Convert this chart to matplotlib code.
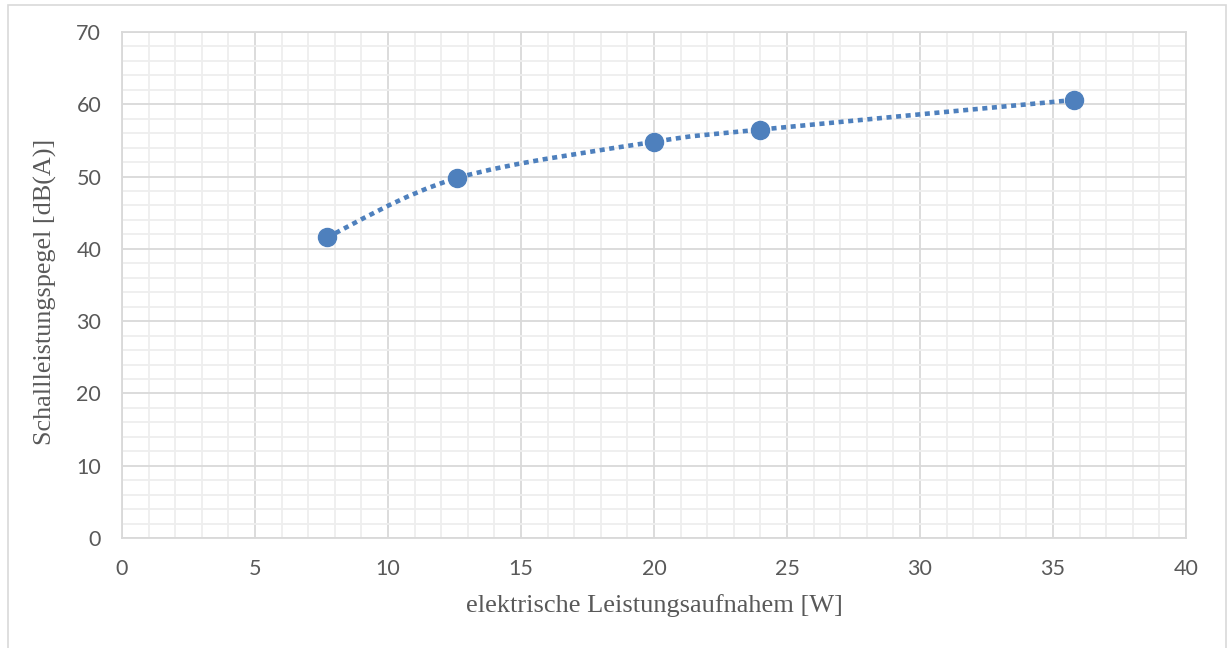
import matplotlib
matplotlib.use("Agg")
import matplotlib.pyplot as plt
from matplotlib.path import Path
from matplotlib.patches import PathPatch, Rectangle
from matplotlib.ticker import MultipleLocator
import numpy as np

# Measured values
power_w = [7.7, 12.6, 20.0, 24.0, 35.8]
sound_dba = [41.6, 49.8, 54.8, 56.5, 60.6]

x_ticks = [0, 5, 10, 15, 20, 25, 30, 35, 40]
y_ticks = [0, 10, 20, 30, 40, 50, 60, 70]

x_title = "elektrische Leistungsaufnahem [W]"
y_title = "Schallleistungspegel [dB(A)]"

blue = "#4e80bd"
tick_grey = "#595959"
title_grey = "#595959"

fig = plt.figure(figsize=(12.29, 6.48), dpi=100)
fig.patch.set_facecolor("white")

# outer chart border
fig.patches.append(Rectangle((8 / 1229, -0.05), (1226 - 8) / 1229, 1.05 - 5 / 648,
                             transform=fig.transFigure, fill=False,
                             edgecolor="#d9d9d9", linewidth=1.2))

ax = fig.add_axes([122 / 1229, 1 - 538 / 648, (1186 - 122) / 1229, (538 - 32) / 648])
ax.set_xlim(0, 40)
ax.set_ylim(0, 70)
ax.set_xticks(x_ticks)
ax.set_yticks(y_ticks)
ax.xaxis.set_minor_locator(MultipleLocator(1))
ax.yaxis.set_minor_locator(MultipleLocator(2))
ax.grid(which="minor", color="#eeeeee", linewidth=1.3, zorder=0)
ax.grid(which="major", color="#d9d9d9", linewidth=1.3, zorder=0)
ax.set_axisbelow(True)
for s in ax.spines.values():
    s.set_color("#d9d9d9")
    s.set_linewidth(1.3)
ax.tick_params(which="both", length=0)
ax.tick_params(axis="x", pad=15, labelsize=15.5, labelcolor=tick_grey)
ax.tick_params(axis="y", pad=15, labelsize=15.5, labelcolor=tick_grey)
for lab in ax.get_xticklabels() + ax.get_yticklabels():
    lab.set_family("Lato")

# smoothed connecting line (Catmull-Rom style cubic Bezier segments)
pts = np.column_stack([power_w, sound_dba])
n = len(pts)
verts = [tuple(pts[0])]
codes = [Path.MOVETO]
for i in range(n - 1):
    p0 = pts[max(i - 1, 0)]
    p1 = pts[i]
    p2 = pts[i + 1]
    p3 = pts[min(i + 2, n - 1)]
    c1 = p1 + (p2 - p0) / 6.0
    c2 = p2 - (p3 - p1) / 6.0
    verts += [tuple(c1), tuple(c2), tuple(p2)]
    codes += [Path.CURVE4] * 3
curve = PathPatch(Path(verts, codes), fill=False, edgecolor=blue, linewidth=3.3,
                  linestyle=(0, (1.1, 1.0)), capstyle="butt", zorder=3)
ax.add_patch(curve)

ax.plot(power_w, sound_dba, linestyle="none", marker="o", markersize=13,
        markerfacecolor=blue, markeredgecolor=blue, zorder=4)

fig.text(654 / 1229, 1 - 606 / 648, x_title, ha="center", va="center",
         fontsize=19, family="Liberation Serif", color=title_grey)
fig.text(45 / 1229, 1 - 292 / 648, y_title, ha="center", va="center", rotation=90,
         fontsize=18.8, family="Liberation Serif", color=title_grey)

fig.savefig("out.png", dpi=100, facecolor="white")
